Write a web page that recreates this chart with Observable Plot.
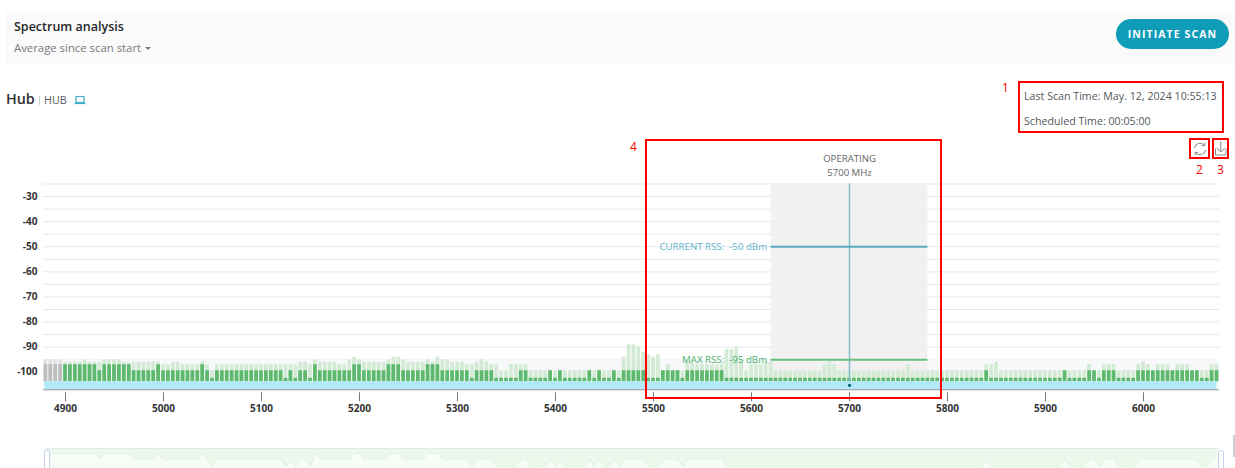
<!DOCTYPE html>
<html>
<head>
<meta charset="utf-8">
<script src="https://cdn.jsdelivr.net/npm/d3@7"></script>
<script src="https://cdn.jsdelivr.net/npm/@observablehq/plot@0.6"></script>
<style>
html,body{margin:0;padding:0;background:#fff;width:1235px;height:468px;overflow:hidden;font-family:"Open Sans",sans-serif;}
.abs{position:absolute;white-space:nowrap;}
.box{position:absolute;border:2px solid #f00;box-sizing:border-box;}
.num{position:absolute;color:#f00;font-size:12px;line-height:14px;}
svg{display:block;}
#chart,#mini{position:absolute;left:0;}
#chart{top:150px;}
#mini{top:448px;}
</style>
</head>
<body>
<div class="abs" style="left:6px;top:11px;width:1228px;height:53px;background:#fafafa;"></div>
<div class="abs" style="left:14px;top:18px;font-size:12.5px;font-weight:600;color:#26282b;line-height:18px;">Spectrum analysis</div>
<div class="abs" style="left:14px;top:40px;font-size:11.35px;color:#77797c;line-height:16px;">Average since scan start</div>
<div class="abs" style="left:144.5px;top:47px;width:0;height:0;border-left:3.5px solid transparent;border-right:3.5px solid transparent;border-top:3.5px solid #77797c;"></div>
<div class="abs" style="left:1116px;top:19px;width:113px;height:30px;border-radius:15px;background:#0e9cb8;color:#fff;font-size:10.5px;font-weight:700;letter-spacing:1.1px;line-height:30px;text-align:center;">INITIATE SCAN</div>
<div class="abs" style="left:6px;top:89px;font-size:14.3px;font-weight:600;color:#2c2e30;line-height:20px;">Hub</div>
<div class="abs" style="left:39px;top:96px;width:1px;height:9px;background:#ccc;"></div>
<div class="abs" style="left:44px;top:92px;font-size:10.7px;color:#55585b;line-height:16px;">HUB</div>
<svg class="abs" style="left:74px;top:95px;" width="12" height="10"><rect x="2" y="1.5" width="8" height="6" fill="none" stroke="#3fb0c8" stroke-width="1.2"/><line x1="0.5" y1="8.5" x2="11.5" y2="8.5" stroke="#3fb0c8" stroke-width="1.2"/></svg>
<div class="abs" style="left:1024px;top:88px;font-size:10.67px;color:#55585b;line-height:16px;">Last Scan Time: May. 12, 2024 10:55:13</div>
<div class="abs" style="left:1024px;top:113px;font-size:10.67px;color:#55585b;line-height:16px;">Scheduled Time: 00:05:00</div>
<div id="chart"></div>
<div id="mini"></div>
<svg class="abs" style="left:1192px;top:141px;" width="16" height="16" fill="none" stroke="#8a8a8a" stroke-width="1"><path d="M2.5 7a5.5 5.5 0 0 1 9.8-2.6M13.5 9a5.5 5.5 0 0 1-9.8 2.6"/><path d="M12.8 1.6v3h-3M3.2 14.4v-3h3"/></svg>
<svg class="abs" style="left:1213px;top:141px;" width="15" height="16" fill="none" stroke="#8a8a8a" stroke-width="1"><path d="M7.75 0.5v10.5M3.75 7l4 4 4-4M2.5 7.5v6.5h10.5V7.5"/></svg>
<div class="box" style="left:645px;top:139px;width:297px;height:260px;"></div>
<div class="box" style="left:1018px;top:81px;width:206px;height:52px;"></div>
<div class="box" style="left:1189px;top:138px;width:21px;height:21px;"></div>
<div class="box" style="left:1212px;top:138px;width:17px;height:21px;"></div>
<div class="num" style="left:1002px;top:81px;">1</div>
<div class="num" style="left:1196px;top:163px;">2</div>
<div class="num" style="left:1217px;top:163px;">3</div>
<div class="num" style="left:630px;top:140px;">4</div>
<div class="abs" style="left:44px;top:450px;width:4px;height:18px;background:#fff;border:1px solid #c6d2e6;border-radius:2px;box-sizing:content-box;"></div>
<div class="abs" style="left:1218px;top:450px;width:4px;height:18px;background:#fff;border:1px solid #c6d2e6;border-radius:2px;box-sizing:content-box;"></div>
<div class="abs" style="left:1233px;top:435px;width:2px;height:22px;background:#d0d0d0;"></div>
<script>
const H = -97, M = -99.4, L = -102.4;

const freqs = [
4880,4885,4890,4895,4900,4905,4910,4915,4920,4925,
4930,4935,4940,4945,4950,4955,4960,4965,4970,4975,
4980,4985,4990,4995,5000,5005,5010,5015,5020,5025,
5030,5035,5040,5045,5050,5055,5060,5065,5070,5075,
5080,5085,5090,5095,5100,5105,5110,5115,5120,5125,
5130,5135,5140,5145,5150,5155,5160,5165,5170,5175,
5180,5185,5190,5195,5200,5205,5210,5215,5220,5225,
5230,5235,5240,5245,5250,5255,5260,5265,5270,5275,
5280,5285,5290,5295,5300,5305,5310,5315,5320,5325,
5330,5335,5340,5345,5350,5355,5360,5365,5370,5375,
5380,5385,5390,5395,5400,5405,5410,5415,5420,5425,
5430,5435,5440,5445,5450,5455,5460,5465,5470,5475,
5480,5485,5490,5495,5500,5505,5510,5515,5520,5525,
5530,5535,5540,5545,5550,5555,5560,5565,5570,5575,
5580,5585,5590,5595,5600,5605,5610,5615,5620,5625,
5630,5635,5640,5645,5650,5655,5660,5665,5670,5675,
5680,5685,5690,5695,5700,5705,5710,5715,5720,5725,
5730,5735,5740,5745,5750,5755,5760,5765,5770,5775,
5780,5785,5790,5795,5800,5805,5810,5815,5820,5825,
5830,5835,5840,5845,5850,5855,5860,5865,5870,5875,
5880,5885,5890,5895,5900,5905,5910,5915,5920,5925,
5930,5935,5940,5945,5950,5955,5960,5965,5970,5975,
5980,5985,5990,5995,6000,6005,6010,6015,6020,6025,
6030,6035,6040,6045,6050,6055,6060,6065,6070,6075];

const averageRss = [
H,H,H,H,H,H,H,H,H,H,
H,M,H,H,H,H,H,H,M,M,
M,M,M,H,M,M,M,M,M,M,
M,M,H,M,L,M,M,M,M,M,
M,M,M,M,M,M,M,M,M,L,
M,L,M,M,L,H,M,M,M,M,
M,M,M,H,H,M,M,M,M,M,
H,H,H,M,M,M,M,M,H,H,
H,M,M,M,M,M,M,L,M,M,
M,M,L,L,L,L,L,M,M,L,
L,L,L,M,L,M,L,L,L,L,
L,M,L,M,L,L,M,L,M,M,
M,M,M,L,L,L,M,M,M,M,
L,M,M,M,M,M,M,M,M,L,
L,L,L,L,L,L,L,L,L,L,
L,L,L,L,L,L,L,L,L,L,
L,L,L,L,L,L,L,L,L,L,
L,L,L,L,L,L,L,L,L,L,
L,L,L,L,L,L,L,L,L,L,
L,L,M,L,L,L,L,L,L,L,
L,L,L,L,L,L,L,L,M,L,
L,L,L,M,M,L,M,M,M,L,
L,L,L,M,M,M,M,M,M,M,
M,M,M,M,M,M,L,L,M,M];

const maxRss = [
-95,-95,-95,-95,-96,-96,-96,-96,-95,-96,
-96,-96,-95,-95,-95,-95,-96,-96,-96,-96,
-96,-96,-96,-96,-97,-97,-96,-96,-97,-97,
-97,-97,-96,-97,M,-97,-97,-97,-97,-97,
-97,-97,-97,-97,-97,-97,-97,-97,-97,-97,
-97,-97,-96,-96,-97,-95,-96,-96,-96,-96,
-97,-97,-95,-94,-95,-96,-96,-96,-96,-96,
-95,-94,-94,-95,-96,-96,-96,-96,-95,-96,
-94,-95,-95,-96,-96,-96,-97,-97,-96,-95,
-96,-97,-97,M,M,-97,-97,-97,-97,M,
M,M,M,M,M,M,M,M,M,M,
M,M,M,M,M,M,M,M,-94,-89,
-89,-90,-92,-93,-94,-93,M,-97,M,M,
M,-96,-96,-97,-97,-97,-97,-97,-97,-91,
-91,-90,-95,M,-97,-97,-97,-96,-96,M,
M,M,M,M,M,M,M,M,M,-97,
-95,-97,M,M,M,M,M,M,M,M,
M,M,M,M,M,M,-97,M,M,M,
M,M,M,M,M,M,M,M,M,M,
M,M,-97,-97,-96,M,M,M,M,M,
M,M,M,M,M,M,M,M,M,M,
M,M,M,-97,M,M,-97,-97,-97,M,
M,M,M,-97,-96,-97,M,-97,-97,-97,
M,-97,-97,-97,M,M,M,M,-97,-97];

const unusedBars = [4880,4885,4890,4895];
const yLabels = [-30,-40,-50,-60,-70,-80,-90,-100];
const gridLevels = [-25,-30,-35,-40,-45,-50,-55,-60,-65,-70,-75,-80,-85,-90,-95,-100];
const xLabels = [4900,5000,5100,5200,5300,5400,5500,5600,5700,5800,5900,6000];
const operating = {freq:5700, start:5620, end:5780, current:-50, max:-95};

const rows = freqs.map((f,i)=>({f, avg:averageRss[i], max:maxRss[i], off:unusedBars.includes(f)}));
const yBase = -103.8, yFloor = -107, yTop = -25;
const half = 1.9;
const xDomain = [4877.55, 6077.55];

const chart = Plot.plot({
  width:1235, height:265, marginTop:33.5, marginBottom:25.7, marginLeft:43, marginRight:16,
  style:{fontFamily:'"Open Sans",sans-serif', background:"transparent", overflow:"visible"},
  x:{domain:xDomain},
  y:{domain:[yFloor,yTop]},
  marks:[
    Plot.ruleY(gridLevels,{stroke:"#e3e7f1",strokeWidth:1}),
    Plot.rect([{a:xDomain[0],b:xDomain[1]}],{x1:"a",x2:"b",y1:-95,y2:yFloor,fill:"#f7f8fa"}),
    Plot.rect([operating],{x1:"start",x2:"end",y1:yBase,y2:yTop,fill:"#f0f0f0",fillOpacity:0.9}),
    Plot.rectY(rows,{x1:d=>d.f-half,x2:d=>d.f+half,y1:yBase,y2:"max",fill:d=>d.off?"#e2e2e2":"#d3ebd5"}),
    Plot.rectY(rows,{x1:d=>d.f-half,x2:d=>d.f+half,y1:yBase,y2:"avg",fill:d=>d.off?"#bdbdbd":"#5cb96d"}),
    Plot.rect([{a:freqs[0]-1,b:freqs[freqs.length-1]}],{x1:"a",x2:"b",y1:yBase,y2:yFloor,fill:"#b2e9f8"}),
    Plot.ruleX([operating.freq],{y1:yBase,y2:yTop,stroke:"#7fbccd",strokeWidth:1.5}),
    Plot.ruleY([operating.current],{x1:operating.start,x2:operating.end,stroke:"#57a9bd",strokeWidth:2}),
    Plot.ruleY([operating.max],{x1:operating.start,x2:operating.end,stroke:"#68bf7b",strokeWidth:2}),
    Plot.dot([operating.freq],{x:d=>d,y:-105.2,r:1.6,fill:"#0b5f78"}),
    Plot.text([`CURRENT RSS:  ${operating.current} dBm`],{x:operating.start,y:operating.current,dx:-4,textAnchor:"end",fontSize:9.7,fill:"#5fb3c7"}),
    Plot.text([`MAX RSS:  ${operating.max} dBm`],{x:operating.start,y:operating.max,dx:-4,textAnchor:"end",fontSize:9.7,fill:"#4cb16a"}),
    Plot.text(["OPERATING"],{x:operating.freq,y:yTop,dy:-25.5,fontSize:9.6,fill:"#666"}),
    Plot.text([`${operating.freq} MHz`],{x:operating.freq,y:yTop,dy:-11.5,fontSize:9.6,fill:"#666"}),
    Plot.axisY({ticks:yLabels,tickSize:0,tickPadding:6,label:null,tickFormat:d=>String(d),fontSize:10,fontWeight:700,fill:"#333"}),
    Plot.ruleY([yFloor],{stroke:"#8a8f94",strokeWidth:1}),
    Plot.axisX({ticks:xLabels,tickSize:9,tickPadding:3,dy:3,label:null,tickFormat:d=>String(d),fontSize:10,fontWeight:700,fill:"#333",stroke:"#777"})
  ]
});
chart.querySelectorAll('[aria-label="y-axis tick label"] text, [aria-label="x-axis tick label"] text').forEach(t=>t.setAttribute("font-weight","700"));
document.getElementById("chart").appendChild(chart);

const mini = Plot.plot({
  width:1235, height:20, marginTop:0, marginBottom:0, marginLeft:43, marginRight:16,
  style:{background:"transparent"},
  x:{domain:xDomain, axis:null},
  y:{domain:[-103.33,-95], axis:null},
  marks:[
    Plot.rect([{a:freqs[0],b:freqs[freqs.length-1]+2}],{x1:"a",x2:"b",y1:-103.33,y2:-95,fill:"#f6fcf6"}),
    Plot.areaY(rows,{x:"f",y1:-95,y2:"avg",fill:"#edf8ed"}),
    Plot.lineY(rows,{x:"f",y:"avg",stroke:"#ddf0dd",strokeWidth:1}),
    Plot.ruleY([-95],{x1:freqs[0],x2:freqs[freqs.length-1]+2,stroke:"#dfe8ea",strokeWidth:1})
  ]
});
document.getElementById("mini").appendChild(mini);
</script>
</body>
</html>
